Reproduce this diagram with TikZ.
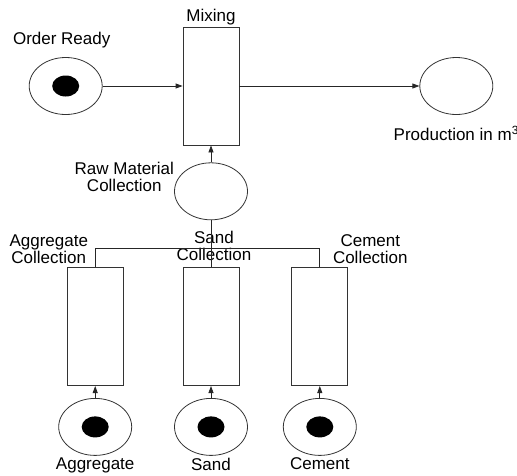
\documentclass[tikz,border=0pt]{standalone}
\usepackage{fontspec}
\setmainfont{Liberation Sans}
\usetikzlibrary{shapes,arrows.meta,positioning}
\tikzstyle{place}=[ellipse,draw=black!80,line width=0.8pt,inner sep=0pt,minimum width=73pt,minimum height=57pt]
\tikzstyle{token}=[ellipse,fill=black,inner sep=0pt,minimum width=27pt,minimum height=21pt]
\tikzstyle{trans}=[rectangle,draw=black!80,line width=0.8pt,inner sep=0pt,minimum width=56pt,minimum height=118pt]
\tikzstyle{lbl}=[inner sep=0pt,align=center,font=\fontsize{17pt}{17pt}\selectfont]
\tikzstyle{arc}=[-{Triangle[length=7pt,width=5pt]},line width=0.8pt,draw=black!85]
\tikzstyle{wire}=[line width=0.8pt,draw=black!85]

\begin{document}
\begin{tikzpicture}

    \useasboundingbox (0,0) rectangle (517pt,-475pt);

    % Stellen und Transitionen
    \node[trans] (mix) at (211pt,-86pt) {};
    \node[place] (ready) [left=80pt of mix] {};
    \node[place] (prod) [right=180pt of mix] {};
    \node[place] (raw) [below=17pt of mix] {};
    \node[trans] (sandt) [below=47pt of raw] {};
    \node[trans] (aggt) [left=59pt of sandt] {};
    \node[trans] (cemt) [right=52pt of sandt] {};
    \node[place] (aggp) [below=12pt of aggt] {};
    \node[place] (sandp) [below=12pt of sandt] {};
    \node[place] (cemp) [below=12pt of cemt] {};
    \coordinate[below=28pt of raw.south] (split);

    % Marken
    \node[token] (readytok) at (ready) {};
    \node[token] (aggtok) at (aggp) {};
    \node[token] (sandtok) at (sandp) {};
    \node[token] (cemtok) at (cemp) {};

    % Beschriftungen
    \node[lbl] (mixlbl) [above=1pt of mix] {Mixing};
    \node[lbl] (readylbl) [above=9pt of ready, xshift=-4pt] {Order Ready};
    \node[lbl] (prodlbl) [below=11pt of prod] {Production in m\textsuperscript{3}};
    \node[lbl] (rawlbl) [left=0pt of raw, yshift=14pt] {Raw Material\\Collection};
    \node[lbl] (agglbl) [above left=3pt and 7pt of aggt.north] {Aggregate\\Collection};
    \node[lbl] (sandlbl) [above=6pt of sandt, xshift=3pt] {Sand\\Collection};
    \node[lbl] (cemlbl) [above right=3pt and 13pt of cemt.north] {Cement\\Collection};
    \node[lbl] (agglbl2) [below=2pt of aggp] {Aggregate};
    \node[lbl] (sandlbl2) [below=2pt of sandp] {Sand};
    \node[lbl] (cemlbl2) [below=2pt of cemp] {Cement};

    % Kanten
    \draw [arc] (ready) -- (mix);
    \draw [arc] (mix) -- (prod);
    \draw [arc] (raw) -- (mix);
    \draw [wire] (raw) -- (sandt);
    \draw [wire] (aggt.north) -- (aggt.north |- split) -- (cemt.north |- split) -- (cemt.north);
    \draw [arc] (aggp) -- (aggt);
    \draw [arc] (sandp) -- (sandt);
    \draw [arc] (cemp) -- (cemt);

\end{tikzpicture}
\end{document}
